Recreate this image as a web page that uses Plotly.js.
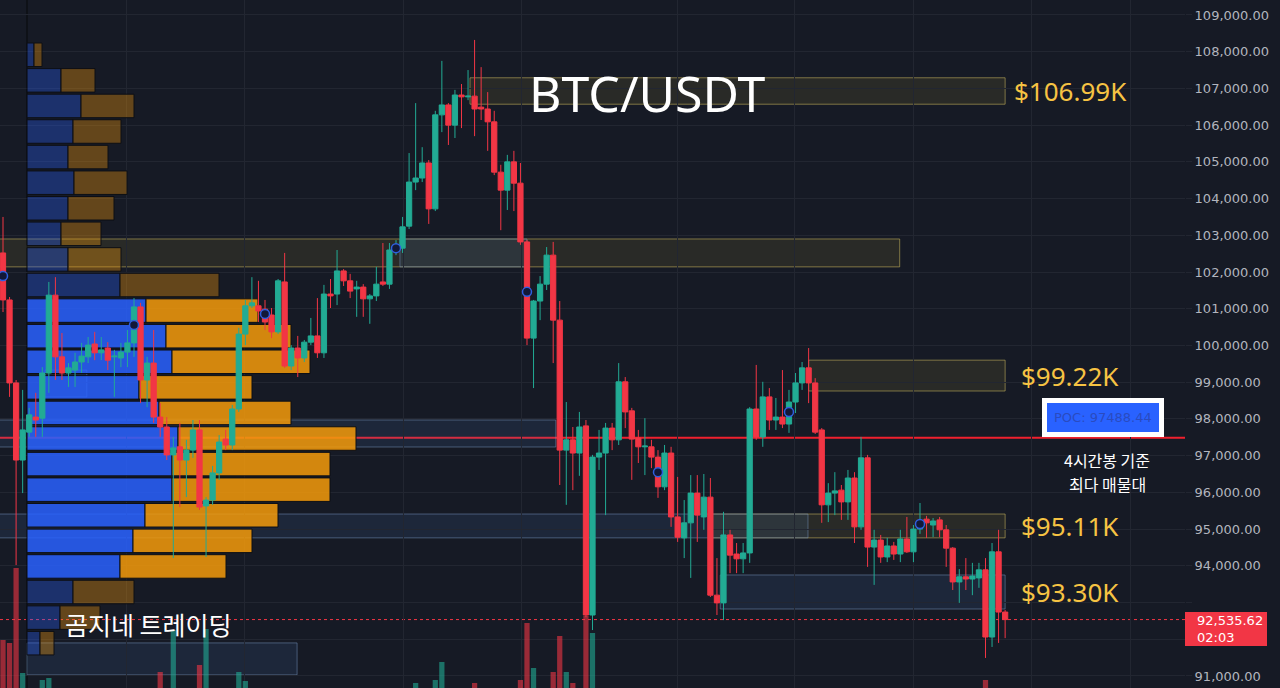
<!DOCTYPE html>
<html><head><meta charset="utf-8">
<script src="https://cdn.plot.ly/plotly-3.0.1.min.js"></script>
<style>html,body{margin:0;padding:0;background:#161a25;}#chart{width:1280px;height:688px;}</style>
</head><body><div id="chart"></div>
<script>
// ---- 4h candles BTC/USDT ----
const openP = [102520,101240,98980,96880,97640,98050,98020,99250,101370,99690,
99250,99330,99550,99690,100040,99800,99930,99690,99660,99820,
100070,101050,99060,99520,98050,97780,97020,97240,96880,97150,
97700,95630,95790,96530,97450,97290,98270,100310,101080,101080,
100990,100830,100370,101730,99440,99930,99660,100090,100260,99800,
101400,101400,102030,101760,101540,101590,101270,101350,101730,101670,
102600,102650,103250,104450,104560,104970,103720,106280,106550,106000,
106820,106770,106790,106490,106440,106090,104720,104230,105000,104420,
102820,100200,101210,101670,102460,100690,97150,97430,97070,97810,
92660,96960,97070,97750,97430,99010,98220,97480,97240,97240,
96960,96150,97070,95330,94760,95170,95980,95330,95870,93200,
92990,94840,94320,94190,94350,98270,97510,98600,97970,98050,
97860,98460,98980,99390,98980,97700,95660,95980,96060,95740,
96390,95060,96940,94510,94700,94240,94540,94320,94730,94380,
95000,95270,95110,95250,94980,94480,93560,93700,93640,93670,
93890,92060,94380,92740];
const highP = [103500,101320,99060,98790,98300,98710,99410,101730,101860,100340,
99520,99800,100070,100230,100370,100230,100090,99880,100070,100420,
101290,101160,99690,100420,98430,98050,97510,97890,97430,97970,
97970,95870,96720,97560,97700,98380,100480,101240,101860,101760,
101240,101020,101810,102520,100010,100260,100150,100750,101290,101650,
101810,102600,102080,101950,101760,101670,101400,102140,102790,102790,
102870,103500,105240,106600,105400,105050,106390,107750,106600,106960,
107120,107500,108320,107580,106900,106390,104920,105190,105300,104970,
102870,101240,101890,102680,102820,101210,98460,97780,98190,97970,
97020,97700,97890,97890,99520,99140,98300,97700,98020,97430,
97150,97290,97240,96420,95790,96470,96470,96500,96390,94210,
95470,94980,94620,94620,98320,99470,99010,98840,98570,99330,
98790,99250,99550,99930,99110,97750,96250,96550,96200,96610,
96550,97510,97020,94980,94840,94760,94650,94980,95330,95110,
95710,95360,95300,95330,95110,94510,93910,94210,94080,94080,
94210,94620,94980,92800];
const lowP = [100910,98600,94020,95980,97510,97510,97510,98710,99060,99060,
98870,98870,99250,99520,99600,99600,99330,98600,99410,99410,
99690,98430,98320,97890,97510,96880,94210,95600,95870,96940,
95520,94240,95660,96340,97150,97150,98190,100010,101020,100640,
100420,100200,100310,99390,99330,99140,99550,100010,99660,99660,
101020,101100,101620,101290,100780,100780,100590,101210,101620,101540,
102460,102520,103170,104230,104450,103310,103660,105810,105460,105650,
105920,106680,105700,106140,105300,104640,103140,103690,103660,102740,
100010,98840,100690,101510,99520,96200,95660,96060,96450,92600,
92250,96610,95380,97150,97290,97750,96340,96800,96470,96660,
95850,96060,95060,94650,94210,93670,94650,94980,93150,92660,
92520,93800,93800,93800,94080,97430,97240,97700,97700,97750,
97620,98160,98790,98430,97590,95170,95190,95380,95250,95250,
94620,94980,93970,93480,94080,94100,94160,94100,94350,94100,
94870,94760,94780,94780,93970,93340,92990,93340,93200,93400,
91490,91790,91900,92030];
const closeP = [101240,98980,96880,97700,98110,97970,99250,101370,99690,99250,
99390,99550,99710,100010,99800,99880,99600,99710,99820,100070,
101050,99060,99520,98050,97780,97020,97210,96880,97150,97700,
95600,95790,96530,97370,97290,98270,100310,101080,101160,100940,
100640,100370,101760,99440,99930,99660,100090,100260,99800,101400,
101350,102030,101760,101480,101590,101270,101350,101670,101670,102600,
102680,103230,104450,104560,104970,103720,106280,106550,106000,106820,
106770,106790,106440,106440,106090,104720,104230,105000,104420,102820,
100200,101210,101670,102460,100690,97150,97430,97070,97780,92660,
96960,97070,97750,97430,99010,98190,97450,97240,97260,96960,
96150,97070,95330,94780,95170,95980,95380,95870,93200,92990,
94840,94290,94190,94350,98270,97510,98600,97970,98050,97860,
98460,98980,99390,98980,97640,95660,95980,96040,95740,96390,
95060,96940,94510,94700,94240,94540,94320,94730,94380,95000,
95220,95170,95220,94980,94480,93560,93700,93640,93720,93890,
92060,94380,92740,92535.62];
const volume = [3400,3250,7000,1750,700,650,1400,1500,950,600,
450,500,420,480,430,380,450,520,400,450,
850,950,700,900,1800,880,3900,920,700,650,
2150,3950,900,850,500,950,1800,1350,650,550,
600,520,900,980,600,620,480,520,700,880,
520,800,480,450,500,520,470,600,650,850,
600,900,950,1250,850,900,1400,2300,800,900,
700,750,1250,800,850,950,880,900,820,1400,
4250,2000,900,850,1800,3600,1800,1250,950,4600,
3750,700,900,600,950,700,800,550,650,500,
700,620,850,750,600,900,650,600,950,700,
950,600,400,450,980,900,800,550,450,600,
550,600,500,700,750,950,600,500,480,550,
700,850,950,650,420,380,350,400,450,420,
500,380,350,400,600,700,550,450,400,450,
1400,980,950,600];

// ---- volume profile (rows, ascending price) ----
const profilePrice = [91892,92589,93286,93982,94679,95376,96073,96769,97466,98163,98859,99556,100253,100950,101646,102343,103040,103736,104433,105130,105827,106523,107220,107917];
const profileUp   = [13,33,46,93,106,118,145,145,151,132,112,145,139,119,93,41,34,41,47,41,46,54,34,7];
const profileDown = [14,40,61,106,119,133,158,158,178,132,113,138,125,112,99,53,40,46,53,40,48,53,34,8];
const valueArea = [93640, 101300];
const pocPrice = 97488.44;
const lastPrice = 92535.62;
const lastTime = "02:03";

// ---- price axis ticks ----
const priceTicks = [91000,92000,93000,94000,95000,96000,97000,98000,99000,100000,101000,102000,103000,104000,105000,106000,107000,108000,109000];

// ---- pivot markers ----
const pivotIdx = [0,20,40,60,80,100,120,140];
const pivotPrice = [101890,100560,100860,102650,101460,96550,98190,95140];

// ---- zones ----
const zoneStart  = [71.3, -2, 60.6, 123, 108.2, -2, -2, 109.5, 3.66, 6.4];
const zoneEnd    = [153, 136.9, 80, 153, 153, 122.9, 84.4, 153, 44.9, 12.8];
const zoneTop    = [107290, 102900, 102900, 99600, 95410, 95410, 97970, 93750, 91900, 99330];
const zoneBottom = [106570, 102140, 102140, 98760, 94760, 94760, 97235, 92823, 91030, 98600];
const zoneKind   = ['supply','supply','demand','supply','supply','demand','demand','demand','demand','demand'];
const zoneLabel  = ['$106.99K','','','$99.22K','$95.11K','','','$93.30K','',''];

const pocNote = ['4시간봉 기준', '최다 매물대'];

const idx = openP.map((_, i) => i);
const gridIdx = [18.9, 36.9, 61.1, 79.2, 103, 120.9, 139, 157.1, 172.1];

const UP = '#22ab94', DOWN = '#f23645';
const inVA = profilePrice.map(p => p >= valueArea[0] && p <= valueArea[1]);
const fmt2 = v => v.toLocaleString('en-US', {minimumFractionDigits:2, maximumFractionDigits:2});
// the last-price badge covers the tick next to it
const tickText = priceTicks.map(v => Math.abs(v - lastPrice) < 600 ? '' : fmt2(v));

const traces = [
  {type:'bar', orientation:'h', y: profilePrice, x: profileUp, base: 0, width: 640,
   xaxis:'x', yaxis:'y', hoverinfo:'skip',
   marker:{color: inVA.map(v => v ? 'rgba(41,98,255,0.85)' : 'rgba(41,98,255,0.33)'), line:{width:1, color:'#0d0f15'}}},
  {type:'bar', orientation:'h', y: profilePrice, x: profileDown, base: profileUp, width: 640,
   xaxis:'x', yaxis:'y', hoverinfo:'skip',
   marker:{color: inVA.map(v => v ? 'rgba(245,155,10,0.85)' : 'rgba(245,155,10,0.35)'), line:{width:1, color:'#0d0f15'}}},
  {type:'candlestick', x: idx, open: openP, high: highP, low: lowP, close: closeP,
   xaxis:'x2', yaxis:'y', whiskerwidth:0, hoverinfo:'skip',
   increasing:{line:{color:UP, width:1}, fillcolor:UP},
   decreasing:{line:{color:DOWN, width:1}, fillcolor:DOWN}},
  {type:'scatter', mode:'markers', x: pivotIdx, y: pivotPrice, xaxis:'x2', yaxis:'y', hoverinfo:'skip',
   marker:{size:9, color:'#121838', line:{color:'#2f5fe0', width:1.5}}},
  {type:'bar', x: idx, y: volume, xaxis:'x2', yaxis:'y2', width:0.8, hoverinfo:'skip',
   marker:{color: idx.map(i => closeP[i] >= openP[i] ? 'rgba(34,171,148,0.6)' : 'rgba(242,54,69,0.6)'), line:{width:0}}}
];

const shapes = [];
zoneStart.forEach((s, i) => {
  const sup = zoneKind[i] === 'supply';
  shapes.push({type:'rect', layer:'below', xref:'x2', yref:'y', x0:s, x1:zoneEnd[i], y0:zoneBottom[i], y1:zoneTop[i],
    fillcolor: sup ? 'rgba(140,128,50,0.16)' : 'rgba(70,110,170,0.16)',
    line:{width:1, color: sup ? 'rgba(205,185,95,0.55)' : 'rgba(120,150,190,0.5)'}});
});
shapes.push({type:'line', layer:'below', xref:'paper', yref:'y', x0:0, x1:1, y0:pocPrice, y1:pocPrice, line:{color:'#f0202e', width:2}});
shapes.push({type:'line', layer:'below', xref:'paper', yref:'y', x0:0, x1:1, y0:lastPrice, y1:lastPrice, line:{color:'#f23645', width:1, dash:'dot'}});
shapes.push({type:'line', layer:'below', xref:'x', yref:'paper', x0:0, x1:0, y0:0, y1:1, line:{color:'#0e1117', width:2}});
shapes.push({type:'rect', layer:'above', xref:'paper', yref:'paper', x0:1, x1:1.0692, y0:0.061, y1:0.1105, fillcolor:'#f23645', line:{width:0}});

const annotations = [
  {xref:'paper', yref:'paper', x:0.5468, y:0.8648, xanchor:'center', yanchor:'middle', text:'BTC/USDT', showarrow:false,
   font:{family:'Noto Sans', size:50, color:'#ffffff'}},
  {xref:'paper', yref:'y', x:0.9308, y:pocPrice, xanchor:'center', yanchor:'bottom', yshift:1, showarrow:false,
   text:'POC: ' + pocPrice.toFixed(2), bgcolor:'#2962ff', bordercolor:'#ffffff', borderwidth:5, borderpad:7,
   font:{family:'DejaVu Sans', size:13, color:'#2a4bbf'}},
  {xref:'paper', yref:'paper', x:0.9342, y:0.332, xanchor:'center', yanchor:'middle', showarrow:false, text:pocNote[0],
   borderpad:0, font:{family:'Noto Sans CJK KR', size:16, color:'#ffffff'}},
  {xref:'paper', yref:'paper', x:0.9342, y:0.296, xanchor:'center', yanchor:'middle', showarrow:false, text:pocNote[1],
   borderpad:0, font:{family:'Noto Sans CJK KR', size:16, color:'#ffffff'}},
  {xref:'paper', yref:'paper', x:0.1249, y:0.093, xanchor:'center', yanchor:'middle', showarrow:false, text:'곰지네 트레이딩',
   font:{family:'Noto Sans CJK KR', size:25, color:'#ffffff'}},
  {xref:'paper', yref:'paper', x:1.0084, xanchor:'left', y:0.0858, yanchor:'middle', showarrow:false, align:'left',
   text: fmt2(lastPrice) + '<br>' + lastTime,
   font:{family:'DejaVu Sans', size:13, color:'#ffffff'}}
];
zoneLabel.forEach((t, i) => {
  if (!t) return;
  annotations.push({xref:'paper', yref:'y', x:0.903, y:(zoneTop[i] + zoneBottom[i]) / 2, xanchor:'center', yanchor:'middle',
    showarrow:false, text:t, font:{family:'Noto Sans', size:26, color:'#f6c343'}});
});

const layout = {
  width:1280, height:688, margin:{l:0, r:95, t:0, b:0},
  paper_bgcolor:'#161a25', plot_bgcolor:'#161a25',
  showlegend:false, hovermode:false, barmode:'overlay', boxgap:0.2, boxgroupgap:0,
  xaxis:{range:[-27, 1158], visible:false, fixedrange:true, rangeslider:{visible:false}},
  xaxis2:{overlaying:'x', range:[-0.458, 180.46], showgrid:true, gridcolor:'#222631', gridwidth:1,
          tickmode:'array', tickvals:gridIdx, showticklabels:false, ticks:'', zeroline:false, showline:false,
          rangeslider:{visible:false}},
  yaxis:{side:'right', range:[90672, 109408], tickmode:'array', tickvals:priceTicks, ticktext:tickText,
         gridcolor:'#222631', zeroline:false, showline:false, ticks:'outside', ticklen:6, tickcolor:'#222631',
         tickfont:{family:'DejaVu Sans', size:13, color:'#b2b5be'}},
  yaxis2:{overlaying:'y', range:[1000, 35400], visible:false},
  shapes: shapes, annotations: annotations
};
Plotly.newPlot('chart', traces, layout, {displayModeBar:false, staticPlot:true});
</script></body></html>
